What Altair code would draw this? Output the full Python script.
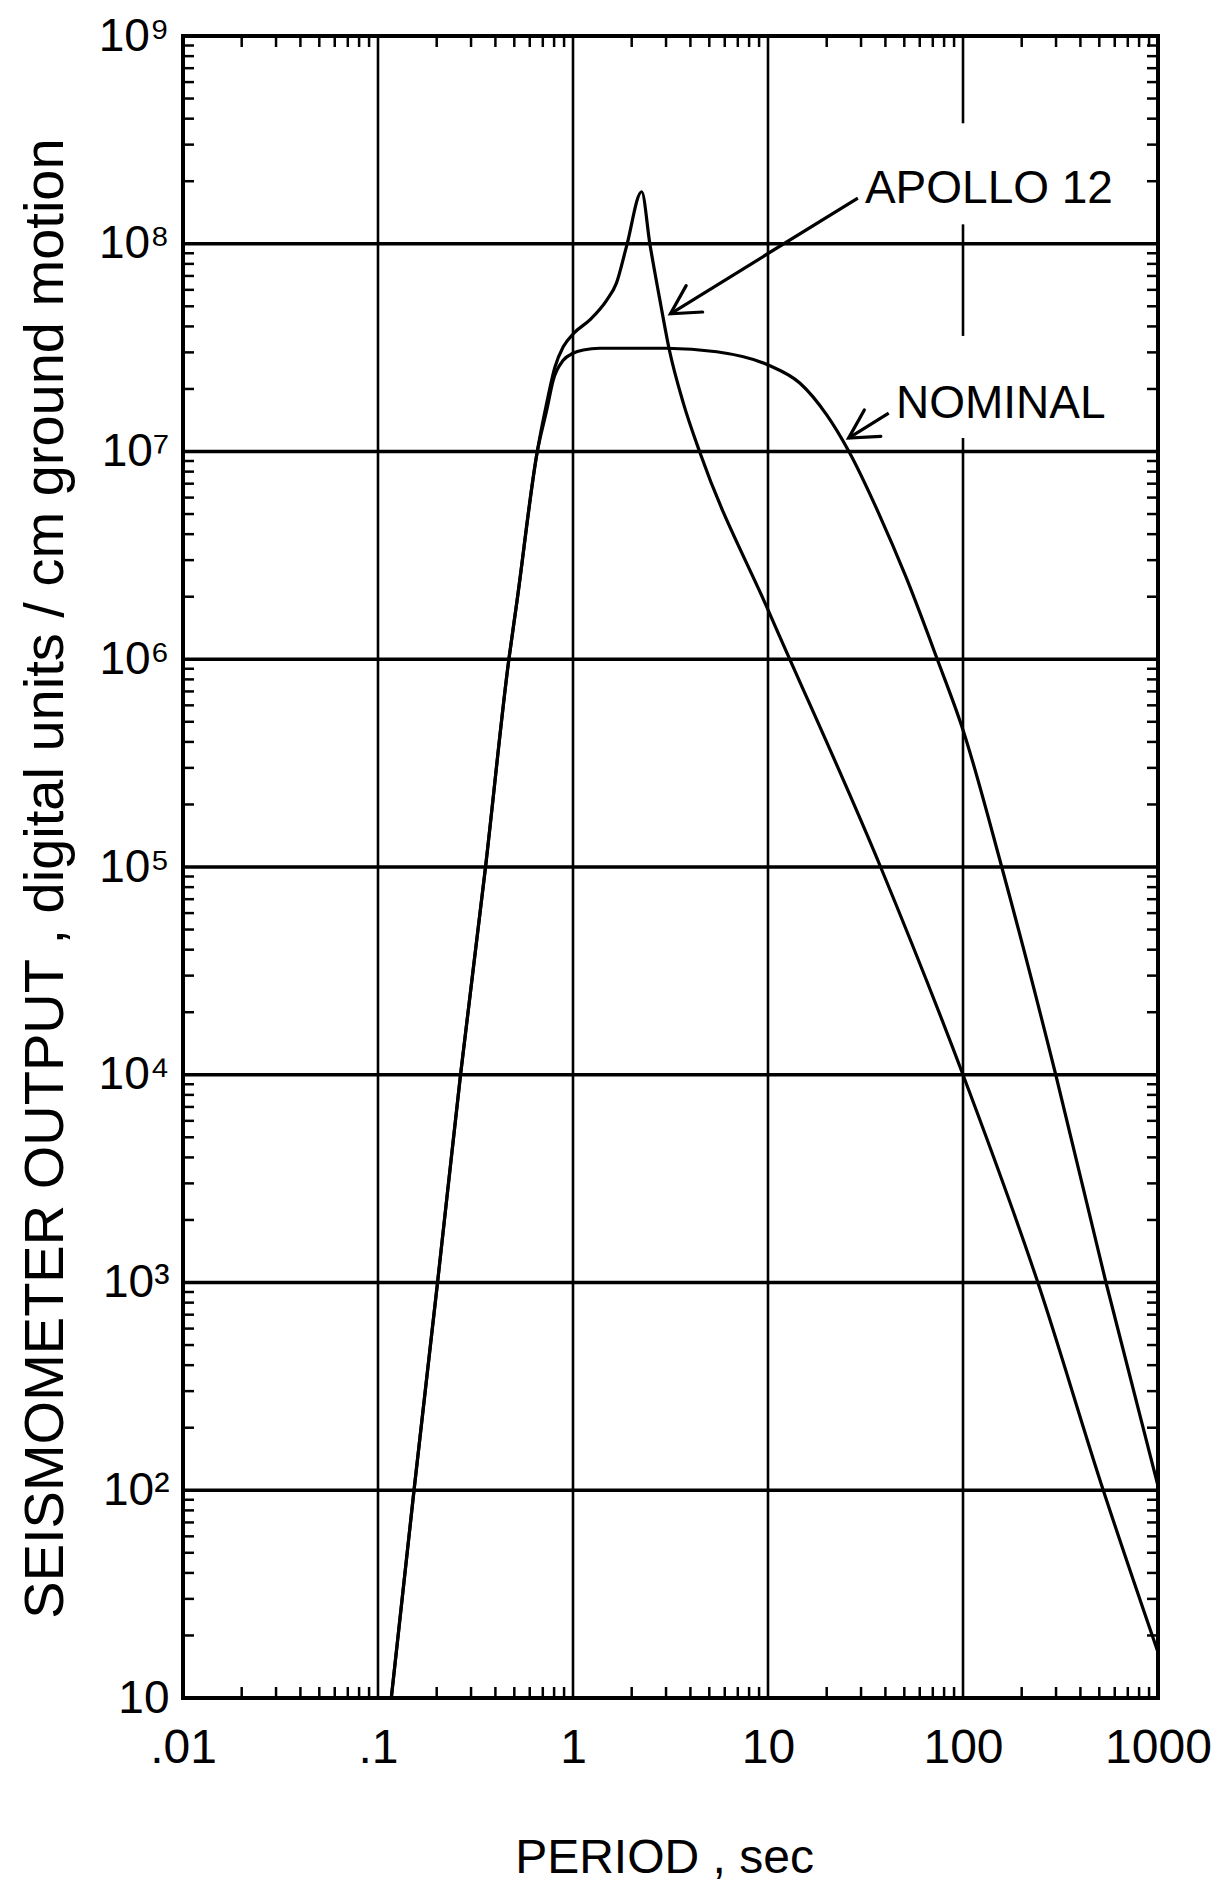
import altair as alt
import pandas as pd

# ---------------- data ----------------
x_tick_values = [0.01, 0.1, 1, 10, 100, 1000]
x_tick_labels = [".01", ".1", "1", "10", "100", "1000"]
y_tick_values = [10, 100, 1000, 10000, 100000, 1000000, 10000000, 100000000, 1000000000]
y_tick_labels = ["10", "10²", "10³", "10⁴", "10⁵", "10⁶", "10⁷", "10⁸", "10⁹"]

# common short-period rising branch (both responses)
rise_period = [0.117, 0.153, 0.202, 0.265, 0.356, 0.469, 0.516, 0.656]
rise_output = [10, 100, 1000, 1e4, 1e5, 1e6, 1.9e6, 1e7]

apollo_period = [0.733, 0.809, 0.891, 1.01, 1.22, 1.49, 1.67, 1.88, 2.25, 2.48, 2.79,
                 3.12, 3.68, 4.48, 10.2, 37.8, 100, 242, 524, 1000]
apollo_output = [1.71e7, 2.56e7, 3.19e7, 3.71e7, 4.30e7, 5.36e7, 6.46e7, 9.68e7, 1.78e8, 9.95e7, 5.36e7,
                 3.08e7, 1.71e7, 9.86e6, 1.66e6, 1e5, 1e4, 1000, 100, 16.6]

nominal_period = [0.733, 0.792, 0.891, 1.0, 1.13, 1.37, 3.02, 5.46, 10, 14.6, 20.0, 26.0, 37.1,
                  50.8, 73.8, 100, 158, 299, 541, 1000]
nominal_output = [1.58e7, 2.21e7, 2.75e7, 2.97e7, 3.08e7, 3.14e7, 3.14e7, 3.02e7, 2.61e7, 2.13e7, 1.5e7, 1e7, 5.0e6,
                  2.51e6, 1e6, 4.57e5, 1e5, 1e4, 1000, 105]

# grid lines (the 100 s line is interrupted behind the labels)
grid_h_values = [1e2, 1e3, 1e4, 1e5, 1e6, 1e7, 1e8]
grid_v_period = [0.1, 1, 10, 100, 100, 100]
grid_v_from = [10, 10, 10, 10, 3.6e7, 3.8e8]
grid_v_to = [1e9, 1e9, 1e9, 1.16e7, 1.24e8, 1e9]

# annotations
ann_labels = ["APOLLO 12", "NOMINAL"]
ann_text_period = [31.4, 45.3]
ann_text_output = [1.57e8, 1.45e7]
arrow_tail_period = [28.9, 41.6]
arrow_tail_output = [1.66e8, 1.53e7]
arrow_tip_period = [3.16, 25.9]
arrow_tip_output = [4.6e7, 1.16e7]

# minor tick positions (2..9 within each decade)
minor_x = [k * 10.0 ** n for n in range(-2, 3) for k in range(2, 10)]
minor_y = [k * 10 ** n for n in range(1, 9) for k in range(2, 10)]

# ---------------- tables ----------------
rows = []
for name, ps, vs in [("APOLLO 12", rise_period + apollo_period, rise_output + apollo_output),
                     ("NOMINAL", rise_period + nominal_period, rise_output + nominal_output)]:
    for i, (p, v) in enumerate(zip(ps, vs)):
        rows.append({"series": name, "x": p, "y": v, "order": i})
curves = pd.DataFrame(rows)

grid_h = pd.DataFrame({"y": grid_h_values, "x": 0.01, "x2": 1000})
grid_v = pd.DataFrame({"x": grid_v_period, "y": grid_v_from, "y2": grid_v_to})
ann = pd.DataFrame({"label": ann_labels, "x": ann_text_period, "y": ann_text_output,
                    "tx": arrow_tail_period, "ty": arrow_tail_output,
                    "hx": arrow_tip_period, "hy": arrow_tip_output})
mx = pd.DataFrame({"x": minor_x})
my = pd.DataFrame({"y": minor_y})

W, H = 975, 1662
FONT = "Liberation Sans"
X_TITLE = "PERIOD , sec"
Y_TITLE = "SEISMOMETER OUTPUT , digital units / cm ground motion"

xs = alt.Scale(type="log", domain=[0.01, 1000], nice=False)
ys = alt.Scale(type="log", domain=[10, 1e9], nice=False)

x_expr = " : ".join(f"datum.value == {v} ? '{l}'" for v, l in zip(x_tick_values, x_tick_labels)) + " : ''"
y_expr = " : ".join(f"datum.value == {v} ? '{l}'" for v, l in zip(y_tick_values, y_tick_labels)) + " : ''"

x_axis = alt.Axis(values=x_tick_values, labelExpr=x_expr, grid=False, domain=False, ticks=False,
                  tickSize=0, labelFont=FONT, labelFontSize=48, labelColor="black",
                  labelBaseline="alphabetic", labelPadding=64, labelFlush=False, labelOverlap=False,
                  title=X_TITLE, titleFont=FONT, titleFontSize=48, titleFontWeight="normal",
                  titleColor="black", titleX=481, titleY=174, titleAlign="center",
                  titleBaseline="alphabetic")
y_axis = alt.Axis(values=y_tick_values, labelExpr=y_expr, grid=False, domain=False, ticks=False,
                  tickSize=0, labelFont=FONT, labelFontSize=46, labelColor="black",
                  labelAlign="right", labelBaseline="middle", labelPadding=14, labelFlush=False,
                  labelOverlap=False,
                  title=Y_TITLE, titleFont=FONT, titleFontSize=56, titleFontWeight="normal",
                  titleColor="black", titleAngle=270, titleX=-121, titleY=842, titleAlign="center",
                  titleBaseline="alphabetic")


def X(field):
    return alt.X(field, type="quantitative", scale=xs, axis=x_axis, title=X_TITLE)


def Y(field):
    return alt.Y(field, type="quantitative", scale=ys, axis=y_axis, title=Y_TITLE)


lines = alt.Chart(curves).mark_line(interpolate="monotone", color="black", strokeWidth=3.2).encode(
    x=X("x"), y=Y("y"), detail="series:N", order="order:Q")

hgrid = alt.Chart(grid_h).mark_rule(color="black", strokeWidth=3.5).encode(
    x=X("x"), x2="x2:Q", y=Y("y"))
vgrid = alt.Chart(grid_v).mark_rule(color="black", strokeWidth=2.6).encode(
    x=X("x"), y=Y("y"), y2="y2:Q")

tick_bottom = alt.Chart(mx).mark_rule(color="black", strokeWidth=2.5).encode(
    x=X("x"), y=alt.value(H), y2=alt.value(H - 11))
tick_top = alt.Chart(mx).mark_rule(color="black", strokeWidth=2.5).encode(
    x=X("x"), y=alt.value(0), y2=alt.value(11))
tick_left = alt.Chart(my).mark_rule(color="black", strokeWidth=2.5).encode(
    y=Y("y"), x=alt.value(0), x2=alt.value(11))
tick_right = alt.Chart(my).mark_rule(color="black", strokeWidth=2.5).encode(
    y=Y("y"), x=alt.value(W), x2=alt.value(W - 11))

labels = alt.Chart(ann).mark_text(font=FONT, fontSize=46, align="left", baseline="alphabetic",
                                  color="black").encode(
    x=X("x"), y=Y("y"), text="label:N")
shafts = alt.Chart(ann).mark_rule(color="black", strokeWidth=3.2).encode(
    x=X("tx"), y=Y("ty"), x2="hx:Q", y2="hy:Q")
heads = alt.Chart(ann).mark_point(shape="M 1 -0.55 L 0 0 L 1 0.55", filled=False, size=3200,
                                  strokeWidth=3.2, color="black", opacity=1, angle=328,
                                  strokeCap="round", strokeJoin="miter").encode(
    x=X("hx"), y=Y("hy"))

chart = alt.layer(lines, hgrid, vgrid, tick_bottom, tick_top, tick_left, tick_right,
                  shafts, heads, labels).properties(
    width=W, height=H,
    autosize=alt.AutoSizeParams(type="none"),
    padding={"left": 175, "top": 28, "right": 60, "bottom": 186},
    background="white",
).configure_view(stroke="black", strokeWidth=4)

chart.save("out.html", embed_options={"renderer": "svg", "actions": False})
